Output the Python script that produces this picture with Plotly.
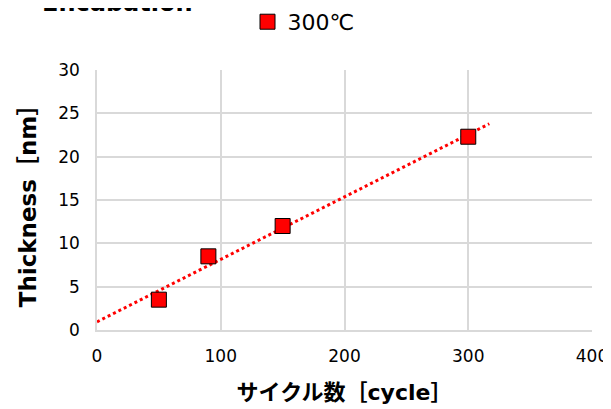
import plotly.graph_objects as go

# data
cycles = [50, 90, 150, 300]
thickness = [3.5, 8.5, 12.0, 22.3]
series_name = "300℃"
trend_range = [0, 317]

# linear trendline (least squares) like Excel's
n = len(cycles)
mx = sum(cycles) / n
my = sum(thickness) / n
slope = sum((x - mx) * (y - my) for x, y in zip(cycles, thickness)) / sum((x - mx) ** 2 for x in cycles)
intercept = my - slope * mx
trend_y = [intercept + slope * x for x in trend_range]

font_family = "DejaVu Sans, Noto Sans CJK JP"
grid = "#d9d9d9"

fig = go.Figure()
fig.add_trace(go.Scatter(
    x=trend_range, y=trend_y, mode="lines",
    line=dict(color="#ff0000", width=3, dash="dot"),
    showlegend=False, hoverinfo="skip",
))
fig.add_trace(go.Scatter(
    x=cycles, y=thickness, mode="markers", name=series_name,
    marker=dict(symbol="square", size=15, color="#ff0000",
                line=dict(color="#000000", width=1)),
))

fig.update_layout(
    width=611, height=409,
    margin=dict(l=89, r=27, t=62, b=87),
    paper_bgcolor="white", plot_bgcolor="white",
    font=dict(family=font_family, color="#000000"),
    legend=dict(orientation="h", xref="container", yref="container",
                x=0.392, xanchor="left", y=0.966, yanchor="middle",
                font=dict(size=22, color="#000000"), itemwidth=30),
    # chart title sits above the top edge, only its lower part shows
    annotations=[dict(
        text="<b>Encabation</b>", xref="paper", yref="paper",
        x=-0.115, y=1.196, xanchor="left", yanchor="bottom",
        showarrow=False, font=dict(size=24, color="#000000"),
    )],
)
fig.update_xaxes(
    range=[0, 400], dtick=100, showgrid=True, gridcolor=grid, gridwidth=1.5,
    showline=True, linecolor=grid, linewidth=1.5, zeroline=False, automargin=False,
    tickfont=dict(size=17, color="#000000"), ticklabelstandoff=10,
    title=dict(text="<b>サイクル数［cycle］</b>", font=dict(size=22), standoff=19),
)
fig.update_yaxes(
    range=[0, 30], dtick=5, showgrid=True, gridcolor=grid, gridwidth=1.5,
    showline=True, linecolor=grid, linewidth=1.5, zeroline=False, automargin=False,
    tickfont=dict(size=17, color="#000000"), ticklabelstandoff=12,
    title=dict(text="<b>Thickness［nm］</b>", font=dict(size=23), standoff=15),
)

fig.write_html("out.html")
